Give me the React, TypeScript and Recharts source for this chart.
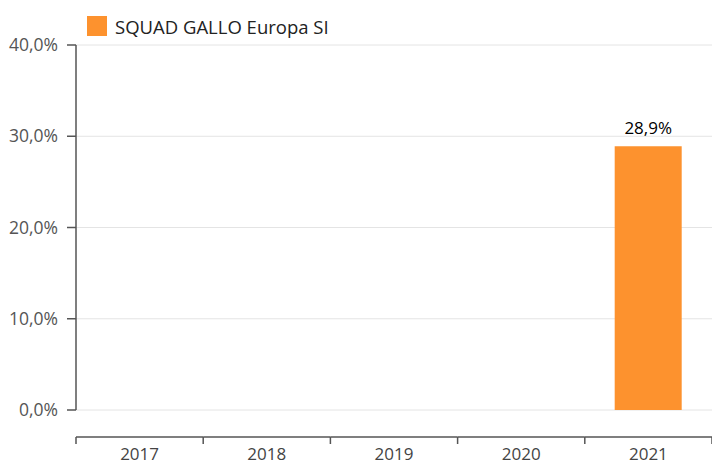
import { BarChart, Bar, XAxis, YAxis, CartesianGrid, Legend, LabelList } from "recharts";

const years = ["2017", "2018", "2019", "2020", "2021"];
const shares: (number | null)[] = [null, null, null, null, 28.9];
const yTicks = [0, 10, 20, 30, 40];
const seriesName = "SQUAD GALLO Europa SI";

const ORANGE = "#fd922e";
const AXIS = "#555555";
const FONT = "'Open Sans', sans-serif";

const data = years.map((year, i) => ({ year, share: shares[i] }));

const pct = (v: number) => `${v.toFixed(1).replace(".", ",")}%`;

// x axis sits a bit below the plot, with ticks on the category boundaries
function YearTick(props: any) {
  const { x, y, payload, width } = props;
  const band = (width ?? 636) / years.length;
  const left = x - band / 2;
  const right = x + band / 2;
  const lineY = y + 27;
  return (
    <g>
      <line x1={left} x2={right} y1={lineY} y2={lineY} stroke={AXIS} strokeWidth={1.5} />
      <line x1={left} x2={left} y1={lineY} y2={lineY + 7} stroke={AXIS} strokeWidth={1.5} />
      {payload.index === years.length - 1 && (
        <line x1={right} x2={right} y1={lineY} y2={lineY + 7} stroke={AXIS} strokeWidth={1.5} />
      )}
      <text x={x} y={lineY + 23} textAnchor="middle" fill="#444" fontSize={17} fontFamily={FONT}>
        {payload.value}
      </text>
    </g>
  );
}

function LegendBox() {
  return (
    <div style={{ display: "flex", alignItems: "center", marginLeft: 87, height: 38, fontFamily: FONT }}>
      <span style={{ width: 20, height: 20, background: ORANGE, display: "inline-block", marginRight: 8 }} />
      <span style={{ fontSize: 18.5, color: "#222" }}>{seriesName}</span>
    </div>
  );
}

export default function App() {
  return (
    <div style={{ position: "absolute", left: 0, top: 0, width: 712, height: 465, background: "#fff" }}>
      <BarChart
        width={712}
        height={465}
        data={data}
        margin={{ top: 7, right: 0, bottom: 0, left: 0 }}
        barCategoryGap="23.5%"
      >
        <Legend verticalAlign="top" align="left" height={38} content={() => <LegendBox />} />
        <CartesianGrid vertical={false} stroke="#e4e4e4" />
        <XAxis
          dataKey="year"
          height={55}
          axisLine={false}
          tickLine={false}
          tickSize={0}
          tickMargin={0}
          interval={0}
          tick={<YearTick />}
        />
        <YAxis
          width={76}
          domain={[0, 40]}
          ticks={yTicks}
          tickFormatter={pct}
          axisLine={{ stroke: AXIS, strokeWidth: 1.5 }}
          tickLine={{ stroke: AXIS, strokeWidth: 1.5 }}
          tickSize={9}
          tickMargin={9}
          tick={{ fill: "#555", fontSize: 17.5, fontFamily: FONT }}
        />
        <Bar dataKey="share" fill={ORANGE} isAnimationActive={false}>
          <LabelList
            dataKey="share"
            position="top"
            offset={12}
            formatter={(v: any) => (v == null ? "" : pct(Number(v)))}
            style={{ fill: "#000", fontSize: 17, fontFamily: FONT }}
          />
        </Bar>
      </BarChart>
    </div>
  );
}
